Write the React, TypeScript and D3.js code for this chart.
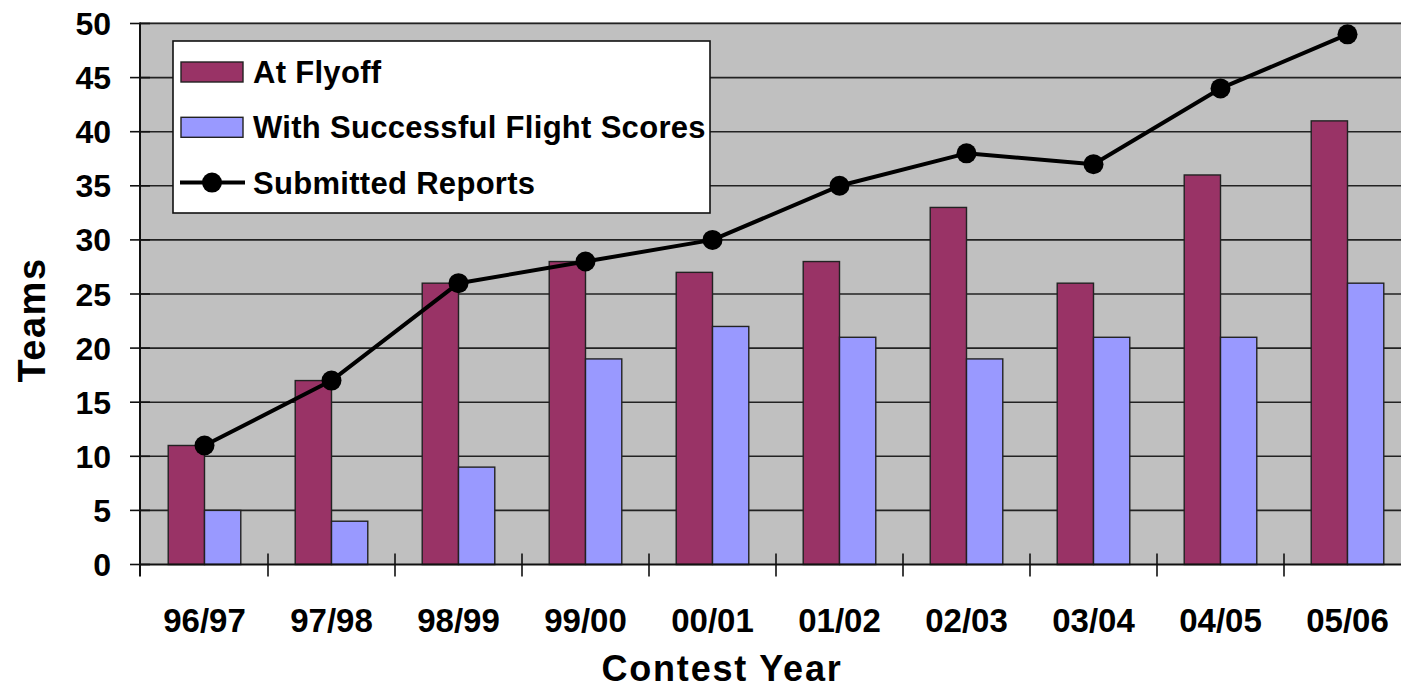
import * as d3 from "d3";

const years = ["96/97", "97/98", "98/99", "99/00", "00/01", "01/02", "02/03", "03/04", "04/05", "05/06"];
const atFlyoff = [11, 17, 26, 28, 27, 28, 33, 26, 36, 41];
const successful = [5, 4, 9, 19, 22, 21, 19, 21, 21, 26];
const reports = [11, 17, 26, 28, 30, 35, 38, 37, 44, 49];
const yTicks = [0, 5, 10, 15, 20, 25, 30, 35, 40, 45, 50];

const barSeries = [
  { key: "At Flyoff", values: atFlyoff, color: "#993366" },
  { key: "With Successful Flight Scores", values: successful, color: "#9999ff" },
];

const W = 1401;
const H = 688;
const FONT = "'Liberation Sans', Arial, sans-serif";

export default function App() {
  const x = d3.scaleBand<string>().domain(years).range([141, 1411]).padding(0);
  const inner = d3
    .scaleBand<string>()
    .domain(barSeries.map((s) => s.key))
    .range([0, x.bandwidth()])
    .paddingInner(0)
    .paddingOuter(0.75);
  const y = d3.scaleLinear().domain([0, 50]).range([564.5, 23.5]);

  const line = d3
    .line<number>()
    .x((_, i) => (x(years[i]) ?? 0) + x.bandwidth() / 2)
    .y((d) => y(d));

  const left = x.range()[0] - 1;
  const right = W;

  return (
    <svg
      width={W}
      height={H}
      style={{ position: "absolute", left: 0, top: 0, background: "#fff" }}
      fontFamily={FONT}
    >
      {/* plot area */}
      <rect x={left} y={y(50)} width={right - left} height={y(0) - y(50)} fill="#c0c0c0" />
      <line x1={left} x2={right} y1={y(50) - 1} y2={y(50) - 1} stroke="#a0a0a0" strokeWidth={1} />

      {/* gridlines */}
      {yTicks.slice(1).map((t) => (
        <line key={t} x1={left} x2={right} y1={y(t)} y2={y(t)} stroke="#222" strokeWidth={1.6} />
      ))}

      {/* bars */}
      {barSeries.map((s) =>
        s.values.map((v, i) => (
          <rect
            key={s.key + i}
            x={(x(years[i]) ?? 0) + (inner(s.key) ?? 0)}
            y={y(v)}
            width={inner.bandwidth()}
            height={y(0) - y(v)}
            fill={s.color}
            stroke="#222"
            strokeWidth={1.4}
          />
        ))
      )}

      {/* line series */}
      <path d={line(reports) ?? ""} fill="none" stroke="#000" strokeWidth={4} strokeLinejoin="round" />
      {reports.map((v, i) => (
        <circle key={i} cx={(x(years[i]) ?? 0) + x.bandwidth() / 2} cy={y(v)} r={10} fill="#000" />
      ))}

      {/* axes */}
      <line x1={left} x2={right} y1={y(0)} y2={y(0)} stroke="#111" strokeWidth={2} />
      <line x1={left} x2={left} y1={y(50) - 1} y2={y(0) + 12} stroke="#111" strokeWidth={2} />
      {yTicks.map((t) => (
        <g key={t}>
          <line x1={left - 10} x2={left + 10} y1={y(t)} y2={y(t)} stroke="#111" strokeWidth={1.6} />
          <text
            x={111}
            y={y(t)}
            dy="0.36em"
            textAnchor="end"
            fontSize={32}
            fontWeight="bold"
            fill="#000"
          >
            {t}
          </text>
        </g>
      ))}
      {years.map((yr) => (
        <g key={yr}>
          <line
            x1={(x(yr) ?? 0) + x.bandwidth()}
            x2={(x(yr) ?? 0) + x.bandwidth()}
            y1={y(0) - 11}
            y2={y(0) + 12}
            stroke="#111"
            strokeWidth={1.6}
          />
          <text
            x={(x(yr) ?? 0) + x.bandwidth() / 2}
            y={632}
            textAnchor="middle"
            fontSize={33}
            fontWeight="bold"
            fill="#000"
          >
            {yr}
          </text>
        </g>
      ))}

      {/* axis titles */}
      <text x={722} y={681} textAnchor="middle" fontSize={36} fontWeight="bold" letterSpacing={1.8} fill="#000">
        Contest Year
      </text>
      <text
        transform="translate(45,320) rotate(-90)"
        textAnchor="middle"
        fontSize={38}
        fontWeight="bold"
        letterSpacing={1.5}
        fill="#000"
      >
        Teams
      </text>

      {/* legend */}
      <g>
        <rect x={173} y={41} width={537} height={172} fill="#fff" stroke="#111" strokeWidth={1.6} />
        {barSeries.map((s, i) => (
          <g key={s.key} transform={`translate(0,${72 + i * 55.3})`}>
            <rect x={181} y={-10} width={62} height={20} fill={s.color} stroke="#222" strokeWidth={1.4} />
            <text x={253} y={0} dy="0.36em" fontSize={31} fontWeight="bold" letterSpacing={0.3} fill="#000">
              {s.key}
            </text>
          </g>
        ))}
        <g transform={`translate(0,${72 + 2 * 55.3})`}>
          <line x1={180} x2={245} y1={0} y2={0} stroke="#000" strokeWidth={4} />
          <circle cx={212} cy={0} r={10} fill="#000" />
          <text x={253} y={0} dy="0.36em" fontSize={31} fontWeight="bold" letterSpacing={0.3} fill="#000">
            Submitted Reports
          </text>
        </g>
      </g>
    </svg>
  );
}
